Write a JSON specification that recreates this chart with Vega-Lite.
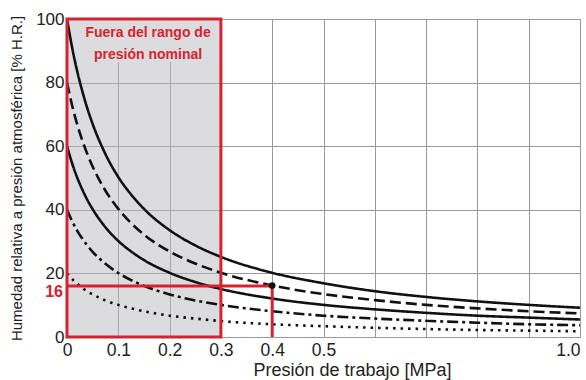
{
  "$schema": "https://vega.github.io/schema/vega-lite/v6.json",
  "width": 513,
  "height": 318,
  "autosize": {"type": "none"},
  "padding": {"left": 67, "top": 19, "right": 6, "bottom": 43},
  "background": "white",
  "config": {
    "font": "Liberation Sans",
    "view": {"stroke": "#8a8a8a", "strokeWidth": 1}
  },
  "layer": [
    {
      "data": {"values": [{"x0": 0, "x1": 0.3, "y0": 0, "y1": 100}]},
      "mark": {"type": "rect", "fill": "#b9babd", "fillOpacity": 0.5},
      "encoding": {
        "x": {
          "field": "x0", "type": "quantitative",
          "scale": {"domain": [0, 1], "nice": false},
          "axis": {
            "title": "Presión de trabajo [MPa]",
            "values": [0, 0.1, 0.2, 0.3, 0.4, 0.5, 0.6, 0.7, 0.8, 0.9, 1.0],
            "labelExpr": "datum.value > 0.55 && datum.value < 0.95 ? '' : (datum.value == 0 ? '0' : format(datum.value, '.1f'))",
            "labelAlign": {"condition": {"test": "datum.value == 1", "value": "right"}, "value": "center"},
            "labelFontSize": 17.5, "labelColor": "#222", "labelPadding": 4,
            "labelOverlap": false, "labelFlush": false,
            "ticks": false, "domain": false,
            "grid": true, "gridColor": "#999999", "gridWidth": 1, "gridOpacity": 1,
            "titleFontSize": 18, "titleFontWeight": "normal", "titleColor": "#222",
            "titleX": 285, "titlePadding": 3
          }
        },
        "x2": {"field": "x1"},
        "y": {
          "field": "y0", "type": "quantitative",
          "scale": {"domain": [0, 100], "nice": false},
          "axis": {
            "title": "Humedad relativa a presión atmosférica [% H.R.]",
            "values": [0, 10, 20, 30, 40, 50, 60, 70, 80, 90, 100],
            "labelExpr": "(datum.value == 0 || datum.value == 20 || datum.value == 40 || datum.value == 60 || datum.value == 80 || datum.value == 100) ? datum.label : ''",
            "labelColor": "#222",
            "labelFontSize": 17, "labelPadding": 3, "labelOverlap": false, "labelFlush": false,
            "ticks": false, "domain": false,
            "grid": true, "gridColor": "#999999", "gridWidth": 1,
            "titleFontSize": 15, "titleFontWeight": "normal", "titleColor": "#222",
            "titlePadding": 11
          }
        },
        "y2": {"field": "y1"}
      }
    },
    {
      "data": {"values": [{"x0": 0.04, "x1": 0.29, "y0": 86.5, "y1": 99.5}]},
      "mark": {"type": "rect", "fill": "#dcdcde"},
      "encoding": {
        "x": {"field": "x0", "type": "quantitative"},
        "x2": {"field": "x1"},
        "y": {"field": "y0", "type": "quantitative"},
        "y2": {"field": "y1"}
      }
    },
    {
      "data": {"values": [{"x": 0.158, "y": 94.2, "label": "Fuera del rango de\npresión nominal"}]},
      "mark": {"type": "text", "font": "Liberation Sans", "align": "center", "baseline": "alphabetic", "fontSize": 14, "fontWeight": "bold", "color": "#d42330", "lineBreak": "\n", "lineHeight": 22},
      "encoding": {
        "x": {"field": "x", "type": "quantitative"},
        "y": {"field": "y", "type": "quantitative"},
        "text": {"field": "label"}
      }
    },
    {
      "data": {"values": [
        {"s": "100", "p": 0, "rh": 100}, {"s": "100", "p": 0.01, "rh": 91.0}, {"s": "100", "p": 0.02, "rh": 83.5}, {"s": "100", "p": 0.03, "rh": 77.2}, {"s": "100", "p": 0.04, "rh": 71.7}, {"s": "100", "p": 0.05, "rh": 67.0}, {"s": "100", "p": 0.075, "rh": 57.5}, {"s": "100", "p": 0.1, "rh": 50.3}, {"s": "100", "p": 0.125, "rh": 44.8}, {"s": "100", "p": 0.15, "rh": 40.3}, {"s": "100", "p": 0.2, "rh": 33.6}, {"s": "100", "p": 0.25, "rh": 28.8}, {"s": "100", "p": 0.3, "rh": 25.2}, {"s": "100", "p": 0.4, "rh": 20.2}, {"s": "100", "p": 0.5, "rh": 16.9}, {"s": "100", "p": 0.6, "rh": 14.4}, {"s": "100", "p": 0.7, "rh": 12.6}, {"s": "100", "p": 0.8, "rh": 11.2}, {"s": "100", "p": 0.9, "rh": 10.1}, {"s": "100", "p": 1.0, "rh": 9.2},
        {"s": "80", "p": 0, "rh": 80}, {"s": "80", "p": 0.01, "rh": 72.8}, {"s": "80", "p": 0.02, "rh": 66.8}, {"s": "80", "p": 0.03, "rh": 61.7}, {"s": "80", "p": 0.04, "rh": 57.4}, {"s": "80", "p": 0.05, "rh": 53.6}, {"s": "80", "p": 0.075, "rh": 46.0}, {"s": "80", "p": 0.1, "rh": 40.3}, {"s": "80", "p": 0.125, "rh": 35.8}, {"s": "80", "p": 0.15, "rh": 32.2}, {"s": "80", "p": 0.2, "rh": 26.9}, {"s": "80", "p": 0.25, "rh": 23.1}, {"s": "80", "p": 0.3, "rh": 20.2}, {"s": "80", "p": 0.4, "rh": 16.2}, {"s": "80", "p": 0.5, "rh": 13.5}, {"s": "80", "p": 0.6, "rh": 11.6}, {"s": "80", "p": 0.7, "rh": 10.1}, {"s": "80", "p": 0.8, "rh": 9.0}, {"s": "80", "p": 0.9, "rh": 8.1}, {"s": "80", "p": 1.0, "rh": 7.4},
        {"s": "60", "p": 0, "rh": 60}, {"s": "60", "p": 0.01, "rh": 54.6}, {"s": "60", "p": 0.02, "rh": 50.1}, {"s": "60", "p": 0.03, "rh": 46.3}, {"s": "60", "p": 0.04, "rh": 43.0}, {"s": "60", "p": 0.05, "rh": 40.2}, {"s": "60", "p": 0.075, "rh": 34.5}, {"s": "60", "p": 0.1, "rh": 30.2}, {"s": "60", "p": 0.125, "rh": 26.9}, {"s": "60", "p": 0.15, "rh": 24.2}, {"s": "60", "p": 0.2, "rh": 20.2}, {"s": "60", "p": 0.25, "rh": 17.3}, {"s": "60", "p": 0.3, "rh": 15.1}, {"s": "60", "p": 0.4, "rh": 12.1}, {"s": "60", "p": 0.5, "rh": 10.1}, {"s": "60", "p": 0.6, "rh": 8.7}, {"s": "60", "p": 0.7, "rh": 7.6}, {"s": "60", "p": 0.8, "rh": 6.7}, {"s": "60", "p": 0.9, "rh": 6.1}, {"s": "60", "p": 1.0, "rh": 5.5},
        {"s": "40", "p": 0, "rh": 40}, {"s": "40", "p": 0.01, "rh": 36.4}, {"s": "40", "p": 0.02, "rh": 33.4}, {"s": "40", "p": 0.03, "rh": 30.9}, {"s": "40", "p": 0.04, "rh": 28.7}, {"s": "40", "p": 0.05, "rh": 26.8}, {"s": "40", "p": 0.075, "rh": 23.0}, {"s": "40", "p": 0.1, "rh": 20.1}, {"s": "40", "p": 0.125, "rh": 17.9}, {"s": "40", "p": 0.15, "rh": 16.1}, {"s": "40", "p": 0.2, "rh": 13.4}, {"s": "40", "p": 0.25, "rh": 11.5}, {"s": "40", "p": 0.3, "rh": 10.1}, {"s": "40", "p": 0.4, "rh": 8.1}, {"s": "40", "p": 0.5, "rh": 6.7}, {"s": "40", "p": 0.6, "rh": 5.8}, {"s": "40", "p": 0.7, "rh": 5.1}, {"s": "40", "p": 0.8, "rh": 4.5}, {"s": "40", "p": 0.9, "rh": 4.0}, {"s": "40", "p": 1.0, "rh": 3.7},
        {"s": "20", "p": 0, "rh": 20}, {"s": "20", "p": 0.01, "rh": 18.2}, {"s": "20", "p": 0.02, "rh": 16.7}, {"s": "20", "p": 0.03, "rh": 15.4}, {"s": "20", "p": 0.04, "rh": 14.3}, {"s": "20", "p": 0.05, "rh": 13.4}, {"s": "20", "p": 0.075, "rh": 11.5}, {"s": "20", "p": 0.1, "rh": 10.1}, {"s": "20", "p": 0.125, "rh": 9.0}, {"s": "20", "p": 0.15, "rh": 8.1}, {"s": "20", "p": 0.2, "rh": 6.7}, {"s": "20", "p": 0.25, "rh": 5.8}, {"s": "20", "p": 0.3, "rh": 5.0}, {"s": "20", "p": 0.4, "rh": 4.0}, {"s": "20", "p": 0.5, "rh": 3.4}, {"s": "20", "p": 0.6, "rh": 2.9}, {"s": "20", "p": 0.7, "rh": 2.5}, {"s": "20", "p": 0.8, "rh": 2.2}, {"s": "20", "p": 0.9, "rh": 2.0}, {"s": "20", "p": 1.0, "rh": 1.8}
      ]},
      "mark": {"type": "line", "color": "#111111", "strokeWidth": 2.6, "interpolate": "monotone", "clip": true},
      "encoding": {
        "x": {"field": "p", "type": "quantitative"},
        "y": {"field": "rh", "type": "quantitative"},
        "strokeDash": {
          "field": "s", "type": "nominal",
          "scale": {"domain": ["100", "80", "60", "40", "20"], "range": [[1, 0], [11, 5], [1, 0], [11, 4, 3, 4], [2.5, 5]]},
          "legend": null
        }
      }
    },
    {
      "data": {"values": [{"x0": 0, "x1": 0.3, "y0": 0, "y1": 100}]},
      "mark": {"type": "rect", "fillOpacity": 0, "stroke": "#d42330", "strokeWidth": 3},
      "encoding": {
        "x": {"field": "x0", "type": "quantitative"},
        "x2": {"field": "x1"},
        "y": {"field": "y0", "type": "quantitative"},
        "y2": {"field": "y1"}
      }
    },
    {
      "data": {"values": [
        {"xa": 0, "xb": 0.4, "ya": 16, "yb": 16},
        {"xa": 0.4, "xb": 0.4, "ya": 0, "yb": 16}
      ]},
      "mark": {"type": "rule", "color": "#d42330", "strokeWidth": 3},
      "encoding": {
        "x": {"field": "xa", "type": "quantitative"},
        "x2": {"field": "xb"},
        "y": {"field": "ya", "type": "quantitative"},
        "y2": {"field": "yb"}
      }
    },
    {
      "data": {"values": [{"p": 0, "rh": 16, "t": "16"}]},
      "mark": {"type": "text", "font": "Liberation Sans", "align": "right", "baseline": "middle", "dx": -4, "dy": 6, "fontSize": 16, "fontWeight": "bold", "color": "#d42330", "clip": false},
      "encoding": {
        "x": {"field": "p", "type": "quantitative"},
        "y": {"field": "rh", "type": "quantitative"},
        "text": {"field": "t"}
      }
    },
    {
      "data": {"values": [{"p": 0.4, "rh": 16.2}]},
      "mark": {"type": "point", "filled": true, "color": "#111111", "size": 45, "opacity": 1},
      "encoding": {
        "x": {"field": "p", "type": "quantitative"},
        "y": {"field": "rh", "type": "quantitative"}
      }
    }
  ]
}
